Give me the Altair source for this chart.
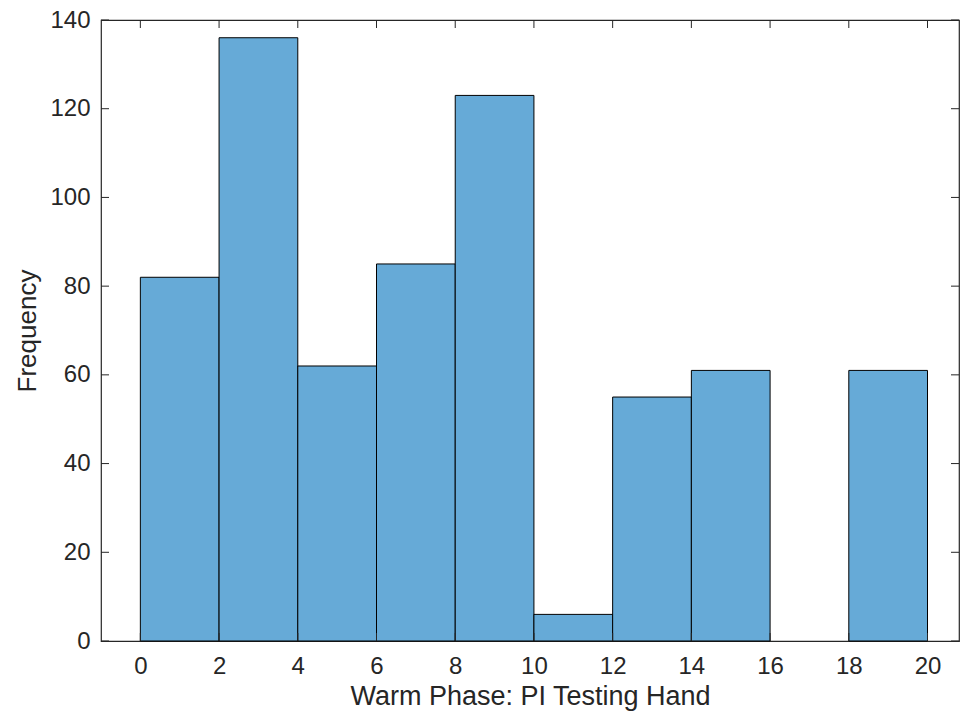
import altair as alt
import pandas as pd

# Histogram data (bin edges of width 2)
bin_start = [0, 2, 4, 6, 8, 10, 12, 14, 16, 18]
bin_end = [2, 4, 6, 8, 10, 12, 14, 16, 18, 20]
counts = [82, 136, 62, 85, 123, 6, 55, 61, 0, 61]

x_ticks = [0, 2, 4, 6, 8, 10, 12, 14, 16, 18, 20]
y_ticks = [0, 20, 40, 60, 80, 100, 120, 140]

W, H = 858, 621
TXT = "#262626"
FONT = "Liberation Sans"

bars_df = pd.DataFrame({"start": bin_start, "end": bin_end, "count": counts})
xt_df = pd.DataFrame({"v": x_ticks})
yt_df = pd.DataFrame({"v": y_ticks})

xscale = alt.Scale(domain=[-1, 20.8], nice=False, zero=False)
yscale = alt.Scale(domain=[0, 140], nice=False)

bars = alt.Chart(bars_df).transform_filter("datum.count > 0").mark_rect(
    fill="#66AAD7", stroke="#000000", strokeWidth=1
).encode(
    x=alt.X("start:Q", scale=xscale,
            axis=alt.Axis(values=x_ticks, title="Warm Phase: PI Testing Hand",
                          grid=False, domain=False, ticks=False,
                          labelFontSize=24, labelColor=TXT, labelFont=FONT,
                          labelPadding=13, titleFontSize=27, titleColor=TXT,
                          titleFont=FONT, titleFontWeight="normal", titlePadding=5)),
    x2="end:Q",
    y=alt.Y("count:Q", scale=yscale,
            axis=alt.Axis(values=y_ticks, title="Frequency",
                          grid=False, domain=False, ticks=False,
                          labelFontSize=24, labelColor=TXT, labelFont=FONT,
                          labelPadding=11, titleFontSize=26, titleColor=TXT,
                          titleFont=FONT, titleFontWeight="normal", titlePadding=9)),
    y2=alt.datum(0),
)

tick_style = dict(color=TXT, strokeWidth=1)
bottom_ticks = alt.Chart(xt_df).mark_rule(**tick_style).encode(
    x=alt.X("v:Q", scale=xscale), y=alt.value(H), y2=alt.value(H - 8))
top_ticks = alt.Chart(xt_df).mark_rule(**tick_style).encode(
    x=alt.X("v:Q", scale=xscale), y=alt.value(0), y2=alt.value(8))
left_ticks = alt.Chart(yt_df).mark_rule(**tick_style).encode(
    y=alt.Y("v:Q", scale=yscale), x=alt.value(0), x2=alt.value(8))
right_ticks = alt.Chart(yt_df).mark_rule(**tick_style).encode(
    y=alt.Y("v:Q", scale=yscale), x=alt.value(W), x2=alt.value(W - 8))

chart = alt.layer(bars, bottom_ticks, top_ticks, left_ticks, right_ticks).properties(
    width=W, height=H,
    autosize=alt.AutoSizeParams(type="none"),
    padding={"left": 101, "top": 20, "right": 1, "bottom": 75},
    background="white",
).configure_view(stroke=TXT, strokeWidth=1.2)

chart.save("out.html", embed_options={"renderer": "svg", "actions": False})
